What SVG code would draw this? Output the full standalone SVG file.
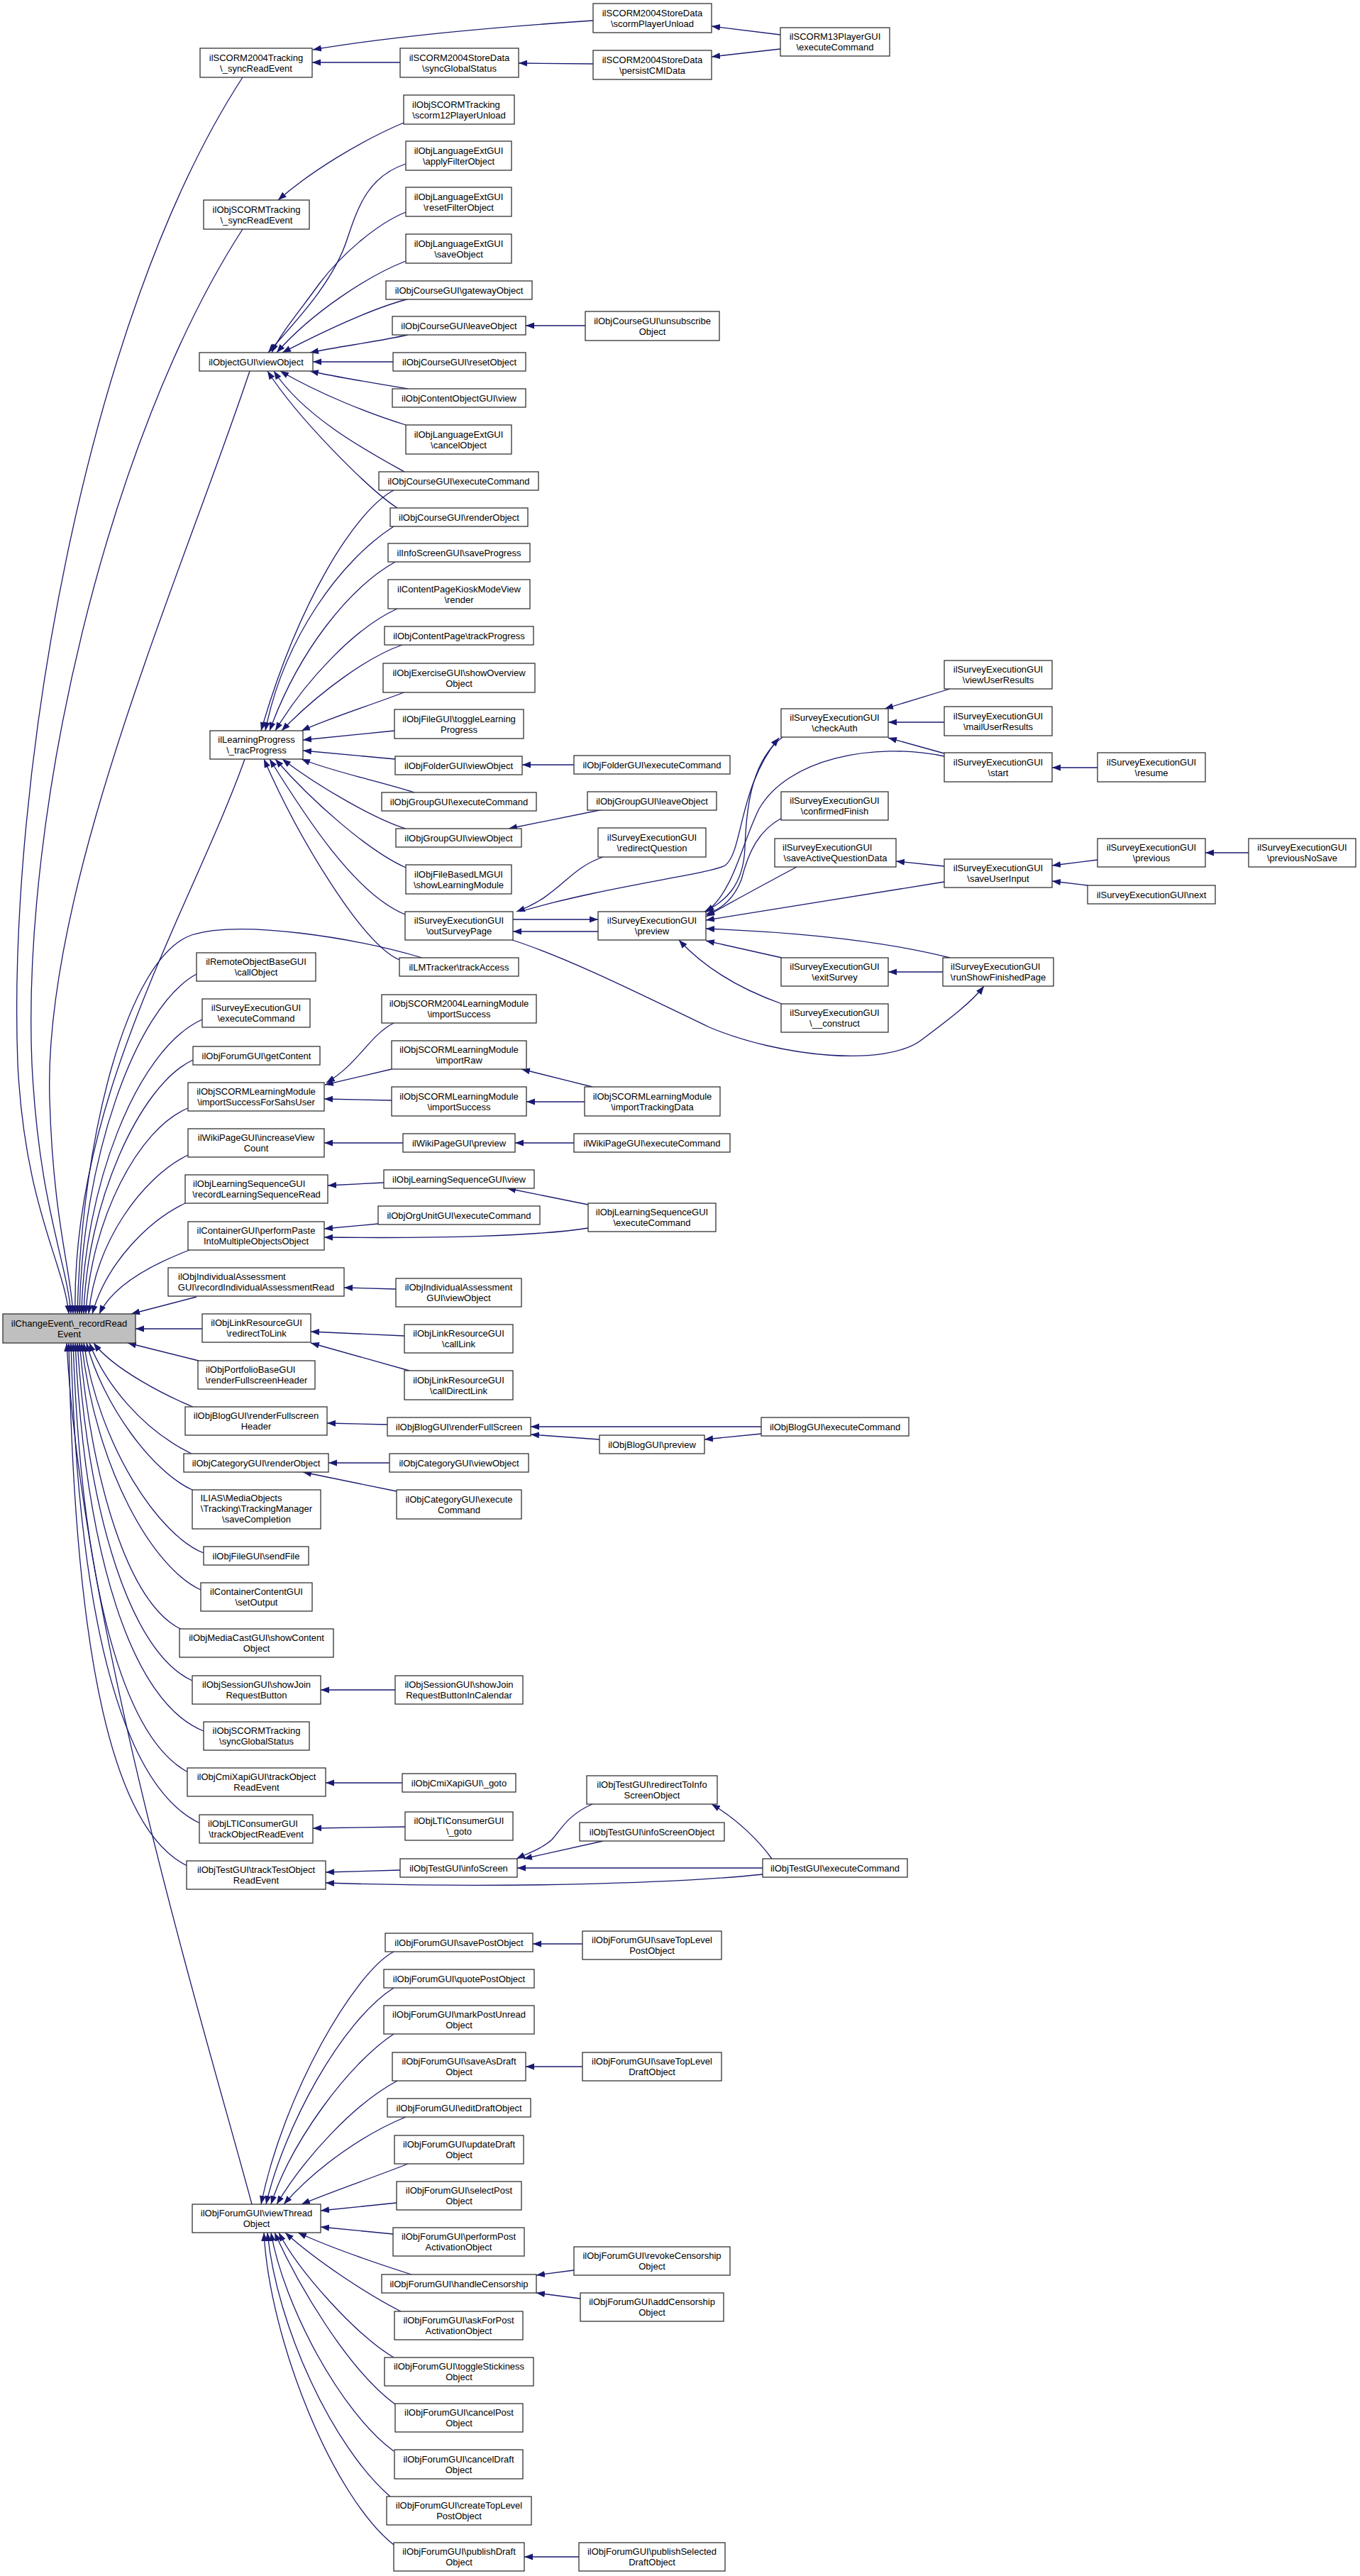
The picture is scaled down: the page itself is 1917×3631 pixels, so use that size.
<svg xmlns="http://www.w3.org/2000/svg" width="1917" height="3631" viewBox="0 0 1917 3631">
<defs>
<marker id="a" markerUnits="userSpaceOnUse" markerWidth="13" markerHeight="10" refX="12" refY="5" orient="auto"><path d="M0,0.5 L12,5 L0,9.5 z" fill="#191970"/></marker>
<style>
.n rect{fill:#fff;stroke:#333;stroke-width:1.3}
.r rect{fill:#bfbfbf;stroke:#333;stroke-width:1.3}
text{font-family:"Liberation Sans",Arial,Helvetica,sans-serif;font-size:13px;fill:#000;text-anchor:middle}
text.l{text-anchor:start}
.e path{fill:none;stroke:#191970;stroke-width:1.3;marker-end:url(#a)}
</style>
</defs>
<rect width="1917" height="3631" fill="#fff"/>
<g id="edges" class="e">
<path d="M342,109 C 120,450 10,1100 25,1500 C 35,1700 90,1780 97,1852"/>
<path d="M342,323 C 150,620 30,1150 45,1500 C 55,1700 95,1780 100,1852"/>
<path d="M352,523 C 260,800 60,1250 70,1550 C 75,1720 100,1790 103,1852"/>
<path d="M345,1070 C 270,1280 100,1550 106,1852"/>
<path d="M595,1350 C 500,1322 340,1296 270,1318 C 180,1350 115,1600 109,1852"/>
<path d="M277,1373 C 190,1420 115,1640 112,1852"/>
<path d="M285,1437 C 190,1480 118,1680 115,1852"/>
<path d="M272,1494 C 195,1530 122,1700 118,1852"/>
<path d="M265,1562 C 195,1590 128,1720 121,1852"/>
<path d="M265,1628 C 200,1660 135,1750 125,1852"/>
<path d="M261,1696 C 210,1720 150,1780 130,1852"/>
<path d="M267,1762 C 220,1780 160,1810 140,1852"/>
<path d="M277,1828 L185,1852"/>
<path d="M285,1873 L191,1873"/>
<path d="M280,1918 L180,1893"/>
<path d="M272,1983 C 233,1967 160,1930 132,1893"/>
<path d="M270,2049 C 200,2015 148,1950 126,1893"/>
<path d="M271,2100 C 215,2075 145,1980 122,1893"/>
<path d="M287,2189 C 225,2165 140,2040 118,1893"/>
<path d="M283,2241 C 215,2210 135,2070 115,1893"/>
<path d="M256,2297 C 180,2260 130,2090 112,1893"/>
<path d="M271,2369 C 185,2330 125,2140 109,1893"/>
<path d="M287,2440 C 185,2400 120,2190 106,1893"/>
<path d="M265,2498 C 175,2450 115,2240 103,1893"/>
<path d="M282,2570 C 175,2520 110,2290 100,1893"/>
<path d="M264,2630 C 160,2580 105,2340 97,1893"/>
<path d="M355,3107 C 300,2900 115,2300 94,1893"/>
<path d="M836,29 C 700,38 560,50 441,70"/>
<path d="M564,88 L440,88"/>
<path d="M836,90 L731,89"/>
<path d="M1100,49 L1003,37"/>
<path d="M1100,69 L1003,80"/>
<path d="M569,173 C 510,198 440,240 392,282"/>
<path d="M825,459 L741,459"/>
<path d="M572,231 C 520,248 505,290 490,335 C 470,400 410,460 378,497"/>
<path d="M572,299 C 530,316 480,360 450,400 C 425,435 395,470 383,497"/>
<path d="M572,368 C 520,388 440,440 390,497"/>
<path d="M577,421 C 530,433 460,465 398,497"/>
<path d="M575,472 C 530,482 480,488 437,497"/>
<path d="M554,510 L441,510"/>
<path d="M575,548 C 530,540 480,533 437,523"/>
<path d="M572,599 C 520,583 450,555 395,523"/>
<path d="M570,665 C 525,640 430,590 386,523"/>
<path d="M560,716 C 520,690 420,590 377,523"/>
<path d="M555,691 C 500,720 420,850 368,1030"/>
<path d="M555,742 C 480,790 400,900 374,1030"/>
<path d="M557,792 C 490,830 420,920 380,1030"/>
<path d="M560,858 C 500,885 430,960 388,1030"/>
<path d="M567,909 C 520,925 450,975 397,1030"/>
<path d="M572,975 C 520,995 470,1010 425,1030"/>
<path d="M556,1030 L427,1043"/>
<path d="M557,1070 L427,1058"/>
<path d="M584,1117 C 530,1100 470,1088 425,1070"/>
<path d="M572,1168 C 530,1155 450,1110 398,1070"/>
<path d="M572,1223 C 520,1200 440,1130 388,1070"/>
<path d="M571,1289 C 500,1260 430,1150 380,1070"/>
<path d="M563,1353 C 510,1330 420,1180 372,1070"/>
<path d="M809,1078 L736,1078"/>
<path d="M850,1141 L717,1168"/>
<path d="M850,1208 C 800,1225 790,1262 728,1285"/>
<path d="M723,1296 L843,1296"/>
<path d="M843,1313 L723,1313"/>
<path d="M733,1285 C 850,1250 1000,1232 1022,1220 C 1048,1200 1040,1110 1098,1040"/>
<path d="M1103,1039 C 1062,1070 1052,1130 1050,1195 C 1048,1250 1020,1272 993,1285"/>
<path d="M1331,1062 L1252,1040"/>
<path d="M1339,971 L1247,999"/>
<path d="M1331,1018 L1252,1018"/>
<path d="M1547,1082 L1483,1082"/>
<path d="M1331,1066 C 1230,1045 1110,1070 1070,1140 C 1045,1190 1035,1255 995,1286"/>
<path d="M1102,1153 C 1070,1170 1055,1200 1045,1240 C 1035,1265 1020,1280 995,1289"/>
<path d="M1123,1222 C 1080,1245 1030,1272 995,1292"/>
<path d="M1331,1243 L995,1297"/>
<path d="M1339,1350 C 1260,1330 1150,1315 995,1309"/>
<path d="M1102,1350 L995,1326"/>
<path d="M1102,1415 C 1060,1400 1000,1372 957,1325"/>
<path d="M1329,1370 L1252,1370"/>
<path d="M722,1325 C 800,1350 900,1400 1000,1448 C 1100,1490 1250,1505 1300,1465 C 1340,1435 1370,1412 1387,1390"/>
<path d="M1331,1221 L1263,1214"/>
<path d="M1547,1212 L1483,1220"/>
<path d="M1533,1248 L1483,1242"/>
<path d="M1760,1202 L1699,1202"/>
<path d="M555,1442 C 520,1460 505,1500 460,1526"/>
<path d="M552,1507 L458,1529"/>
<path d="M552,1551 L457,1549"/>
<path d="M835,1532 L735,1507"/>
<path d="M824,1553 L742,1553"/>
<path d="M568,1611 L457,1611"/>
<path d="M809,1611 L726,1611"/>
<path d="M541,1667 L462,1671"/>
<path d="M829,1698 L715,1675"/>
<path d="M533,1725 L457,1732"/>
<path d="M829,1731 C 760,1742 620,1746 457,1744"/>
<path d="M558,1817 L485,1815"/>
<path d="M570,1883 L438,1877"/>
<path d="M577,1932 L438,1893"/>
<path d="M546,2008 L461,2006"/>
<path d="M1073,2011 L748,2011"/>
<path d="M845,2029 L748,2022"/>
<path d="M1073,2021 L993,2029"/>
<path d="M549,2062 L463,2062"/>
<path d="M559,2102 L427,2075"/>
<path d="M557,2382 L452,2382"/>
<path d="M567,2513 L459,2513"/>
<path d="M571,2575 L441,2577"/>
<path d="M564,2636 L459,2639"/>
<path d="M1075,2633 L729,2633"/>
<path d="M1075,2642 C 950,2655 700,2662 459,2654"/>
<path d="M1088,2620 C 1070,2595 1040,2565 1003,2543"/>
<path d="M835,2543 C 800,2558 790,2580 778,2593 C 765,2605 745,2612 728,2620"/>
<path d="M850,2595 L738,2620"/>
<path d="M555,2751 C 500,2780 400,2950 368,3107"/>
<path d="M555,2802 C 480,2850 400,3000 375,3107"/>
<path d="M555,2867 C 490,2910 410,3020 382,3107"/>
<path d="M560,2933 C 500,2965 430,3040 390,3107"/>
<path d="M572,2984 C 520,3005 450,3050 400,3107"/>
<path d="M575,3050 C 530,3068 470,3088 425,3107"/>
<path d="M559,3105 L452,3116"/>
<path d="M554,3149 L452,3139"/>
<path d="M580,3206 C 530,3190 470,3170 420,3147"/>
<path d="M565,3258 C 520,3235 450,3190 402,3147"/>
<path d="M555,3323 C 500,3290 420,3200 393,3147"/>
<path d="M557,3389 C 490,3340 420,3220 387,3147"/>
<path d="M555,3455 C 480,3400 400,3250 382,3147"/>
<path d="M550,3519 C 470,3450 390,3280 377,3147"/>
<path d="M555,3587 C 470,3520 380,3300 372,3147"/>
<path d="M821,2740 L751,2740"/>
<path d="M821,2913 L741,2913"/>
<path d="M809,3200 L756,3207"/>
<path d="M818,3240 L756,3232"/>
<path d="M816,3604 L739,3604"/>
</g>
<g id="n0" class="r"><rect x="4" y="1852" width="187" height="41"/><text><tspan x="97.5" y="1869.5">ilChangeEvent\_recordRead</tspan><tspan x="97.5" y="1884.5">Event</tspan></text></g>
<g id="n1" class="n"><rect x="282" y="68" width="158" height="41"/><text><tspan x="361" y="85.5">ilSCORM2004Tracking</tspan><tspan x="361" y="100.5">\_syncReadEvent</tspan></text></g>
<g id="n2" class="n"><rect x="287" y="282" width="149" height="41"/><text><tspan x="361.5" y="299.5">ilObjSCORMTracking</tspan><tspan x="361.5" y="314.5">\_syncReadEvent</tspan></text></g>
<g id="n3" class="n"><rect x="281" y="497" width="160" height="26"/><text x="361" y="514.5">ilObjectGUI\viewObject</text></g>
<g id="n4" class="n"><rect x="296" y="1030" width="131" height="40"/><text><tspan x="361.5" y="1047">ilLearningProgress</tspan><tspan x="361.5" y="1062">\_tracProgress</tspan></text></g>
<g id="n5" class="n"><rect x="277" y="1343" width="168" height="40"/><text><tspan x="361" y="1360">ilRemoteObjectBaseGUI</tspan><tspan x="361" y="1375">\callObject</tspan></text></g>
<g id="n6" class="n"><rect x="285" y="1408" width="152" height="40"/><text><tspan x="361" y="1425">ilSurveyExecutionGUI</tspan><tspan x="361" y="1440">\executeCommand</tspan></text></g>
<g id="n7" class="n"><rect x="272" y="1475" width="179" height="26"/><text x="361.5" y="1492.5">ilObjForumGUI\getContent</text></g>
<g id="n8" class="n"><rect x="265" y="1526" width="192" height="40"/><text><tspan x="361" y="1543">ilObjSCORMLearningModule</tspan><tspan x="361" y="1558">\importSuccessForSahsUser</tspan></text></g>
<g id="n9" class="n"><rect x="265" y="1591" width="192" height="40"/><text><tspan x="361" y="1608">ilWikiPageGUI\increaseView</tspan><tspan x="361" y="1623">Count</tspan></text></g>
<g id="n10" class="n"><rect x="261" y="1656" width="201" height="40"/><text class="l" x="272" y="1673">ilObjLearningSequenceGUI</text><text x="361.5" y="1688">\recordLearningSequenceRead</text></g>
<g id="n11" class="n"><rect x="265" y="1722" width="192" height="40"/><text><tspan x="361" y="1739">ilContainerGUI\performPaste</tspan><tspan x="361" y="1754">IntoMultipleObjectsObject</tspan></text></g>
<g id="n12" class="n"><rect x="237" y="1787" width="248" height="40"/><text class="l" x="251" y="1804">ilObjIndividualAssessment</text><text x="361" y="1819">GUI\recordIndividualAssessmentRead</text></g>
<g id="n13" class="n"><rect x="285" y="1852" width="153" height="40"/><text><tspan x="361.5" y="1869">ilObjLinkResourceGUI</tspan><tspan x="361.5" y="1884">\redirectToLink</tspan></text></g>
<g id="n14" class="n"><rect x="279" y="1918" width="165" height="40"/><text class="l" x="290" y="1935">ilObjPortfolioBaseGUI</text><text x="361.5" y="1950">\renderFullscreenHeader</text></g>
<g id="n15" class="n"><rect x="261" y="1983" width="200" height="40"/><text><tspan x="361" y="2000">ilObjBlogGUI\renderFullscreen</tspan><tspan x="361" y="2015">Header</tspan></text></g>
<g id="n16" class="n"><rect x="259" y="2049" width="204" height="26"/><text x="361" y="2066.5">ilObjCategoryGUI\renderObject</text></g>
<g id="n17" class="n"><rect x="271" y="2100" width="181" height="55"/><text class="l" x="282.5" y="2116">ILIAS\MediaObjects</text><text><tspan x="361.5" y="2131">\Tracking\TrackingManager</tspan><tspan x="361.5" y="2146">\saveCompletion</tspan></text></g>
<g id="n18" class="n"><rect x="287" y="2180" width="148" height="26"/><text x="361" y="2197.5">ilObjFileGUI\sendFile</text></g>
<g id="n19" class="n"><rect x="283" y="2231" width="157" height="40"/><text><tspan x="361.5" y="2248">ilContainerContentGUI</tspan><tspan x="361.5" y="2263">\setOutput</tspan></text></g>
<g id="n20" class="n"><rect x="253" y="2296" width="217" height="40"/><text><tspan x="361.5" y="2313">ilObjMediaCastGUI\showContent</tspan><tspan x="361.5" y="2328">Object</tspan></text></g>
<g id="n21" class="n"><rect x="271" y="2362" width="181" height="40"/><text><tspan x="361.5" y="2379">ilObjSessionGUI\showJoin</tspan><tspan x="361.5" y="2394">RequestButton</tspan></text></g>
<g id="n22" class="n"><rect x="287" y="2427" width="149" height="40"/><text><tspan x="361.5" y="2444">ilObjSCORMTracking</tspan><tspan x="361.5" y="2459">\syncGlobalStatus</tspan></text></g>
<g id="n23" class="n"><rect x="264" y="2492" width="195" height="40"/><text><tspan x="361.5" y="2509">ilObjCmiXapiGUI\trackObject</tspan><tspan x="361.5" y="2524">ReadEvent</tspan></text></g>
<g id="n24" class="n"><rect x="281" y="2558" width="160" height="40"/><text class="l" x="293" y="2575">ilObjLTIConsumerGUI</text><text x="361" y="2590">\trackObjectReadEvent</text></g>
<g id="n25" class="n"><rect x="263" y="2623" width="196" height="40"/><text><tspan x="361" y="2640">ilObjTestGUI\trackTestObject</tspan><tspan x="361" y="2655">ReadEvent</tspan></text></g>
<g id="n26" class="n"><rect x="271" y="3107" width="181" height="40"/><text><tspan x="361.5" y="3124">ilObjForumGUI\viewThread</tspan><tspan x="361.5" y="3139">Object</tspan></text></g>
<g id="n30" class="n"><rect x="564" y="68" width="167" height="41"/><text><tspan x="647.5" y="85.5">ilSCORM2004StoreData</tspan><tspan x="647.5" y="100.5">\syncGlobalStatus</tspan></text></g>
<g id="n31" class="n"><rect x="569" y="134" width="156" height="41"/><text class="l" x="581" y="151.5">ilObjSCORMTracking</text><text x="647" y="166.5">\scorm12PlayerUnload</text></g>
<g id="n32" class="n"><rect x="572" y="199" width="149" height="41"/><text><tspan x="646.5" y="216.5">ilObjLanguageExtGUI</tspan><tspan x="646.5" y="231.5">\applyFilterObject</tspan></text></g>
<g id="n33" class="n"><rect x="572" y="264" width="149" height="41"/><text><tspan x="646.5" y="281.5">ilObjLanguageExtGUI</tspan><tspan x="646.5" y="296.5">\resetFilterObject</tspan></text></g>
<g id="n34" class="n"><rect x="572" y="330" width="149" height="41"/><text><tspan x="646.5" y="347.5">ilObjLanguageExtGUI</tspan><tspan x="646.5" y="362.5">\saveObject</tspan></text></g>
<g id="n35" class="n"><rect x="544" y="396" width="206" height="26"/><text x="647" y="413.5">ilObjCourseGUI\gatewayObject</text></g>
<g id="n36" class="n"><rect x="553" y="446" width="188" height="26"/><text x="647" y="463.5">ilObjCourseGUI\leaveObject</text></g>
<g id="n37" class="n"><rect x="554" y="497" width="187" height="26"/><text x="647.5" y="514.5">ilObjCourseGUI\resetObject</text></g>
<g id="n38" class="n"><rect x="553" y="548" width="188" height="26"/><text x="647" y="565.5">ilObjContentObjectGUI\view</text></g>
<g id="n39" class="n"><rect x="572" y="599" width="149" height="41"/><text><tspan x="646.5" y="616.5">ilObjLanguageExtGUI</tspan><tspan x="646.5" y="631.5">\cancelObject</tspan></text></g>
<g id="n40" class="n"><rect x="534" y="665" width="225" height="26"/><text x="646.5" y="682.5">ilObjCourseGUI\executeCommand</text></g>
<g id="n41" class="n"><rect x="550" y="716" width="194" height="26"/><text x="647" y="733.5">ilObjCourseGUI\renderObject</text></g>
<g id="n42" class="n"><rect x="547" y="766" width="200" height="26"/><text x="647" y="783.5">ilInfoScreenGUI\saveProgress</text></g>
<g id="n43" class="n"><rect x="547" y="817" width="200" height="41"/><text><tspan x="647" y="834.5">ilContentPageKioskModeView</tspan><tspan x="647" y="849.5">\render</tspan></text></g>
<g id="n44" class="n"><rect x="542" y="883" width="210" height="26"/><text x="647" y="900.5">ilObjContentPage\trackProgress</text></g>
<g id="n45" class="n"><rect x="540" y="935" width="214" height="41"/><text><tspan x="647" y="952.5">ilObjExerciseGUI\showOverview</tspan><tspan x="647" y="967.5">Object</tspan></text></g>
<g id="n46" class="n"><rect x="556" y="1000" width="182" height="41"/><text><tspan x="647" y="1017.5">ilObjFileGUI\toggleLearning</tspan><tspan x="647" y="1032.5">Progress</tspan></text></g>
<g id="n47" class="n"><rect x="557" y="1066" width="179" height="26"/><text x="646.5" y="1083.5">ilObjFolderGUI\viewObject</text></g>
<g id="n48" class="n"><rect x="538" y="1117" width="218" height="26"/><text x="647" y="1134.5">ilObjGroupGUI\executeCommand</text></g>
<g id="n49" class="n"><rect x="558" y="1168" width="177" height="26"/><text x="646.5" y="1185.5">ilObjGroupGUI\viewObject</text></g>
<g id="n50" class="n"><rect x="572" y="1219" width="149" height="41"/><text><tspan x="646.5" y="1236.5">ilObjFileBasedLMGUI</tspan><tspan x="646.5" y="1251.5">\showLearningModule</tspan></text></g>
<g id="n51" class="n"><rect x="571" y="1285" width="152" height="40"/><text><tspan x="647" y="1302">ilSurveyExecutionGUI</tspan><tspan x="647" y="1317">\outSurveyPage</tspan></text></g>
<g id="n52" class="n"><rect x="563" y="1350" width="168" height="26"/><text x="647" y="1367.5">ilLMTracker\trackAccess</text></g>
<g id="n53" class="n"><rect x="538" y="1402" width="218" height="40"/><text><tspan x="647" y="1419">ilObjSCORM2004LearningModule</tspan><tspan x="647" y="1434">\importSuccess</tspan></text></g>
<g id="n54" class="n"><rect x="552" y="1467" width="190" height="40"/><text><tspan x="647" y="1484">ilObjSCORMLearningModule</tspan><tspan x="647" y="1499">\importRaw</tspan></text></g>
<g id="n55" class="n"><rect x="552" y="1532" width="190" height="41"/><text><tspan x="647" y="1549.5">ilObjSCORMLearningModule</tspan><tspan x="647" y="1564.5">\importSuccess</tspan></text></g>
<g id="n56" class="n"><rect x="568" y="1598" width="158" height="26"/><text x="647" y="1615.5">ilWikiPageGUI\preview</text></g>
<g id="n57" class="n"><rect x="541" y="1649" width="212" height="26"/><text x="647" y="1666.5">ilObjLearningSequenceGUI\view</text></g>
<g id="n58" class="n"><rect x="533" y="1700" width="228" height="26"/><text x="647" y="1717.5">ilObjOrgUnitGUI\executeCommand</text></g>
<g id="n59" class="n"><rect x="558" y="1802" width="177" height="40"/><text><tspan x="646.5" y="1819">ilObjIndividualAssessment</tspan><tspan x="646.5" y="1834">GUI\viewObject</tspan></text></g>
<g id="n60" class="n"><rect x="570" y="1867" width="153" height="40"/><text><tspan x="646.5" y="1884">ilObjLinkResourceGUI</tspan><tspan x="646.5" y="1899">\callLink</tspan></text></g>
<g id="n61" class="n"><rect x="570" y="1932" width="153" height="41"/><text><tspan x="646.5" y="1949.5">ilObjLinkResourceGUI</tspan><tspan x="646.5" y="1964.5">\callDirectLink</tspan></text></g>
<g id="n62" class="n"><rect x="546" y="1998" width="202" height="26"/><text x="647" y="2015.5">ilObjBlogGUI\renderFullScreen</text></g>
<g id="n63" class="n"><rect x="549" y="2049" width="196" height="26"/><text x="647" y="2066.5">ilObjCategoryGUI\viewObject</text></g>
<g id="n64" class="n"><rect x="559" y="2100" width="176" height="41"/><text><tspan x="647" y="2117.5">ilObjCategoryGUI\execute</tspan><tspan x="647" y="2132.5">Command</tspan></text></g>
<g id="n65" class="n"><rect x="557" y="2362" width="180" height="40"/><text><tspan x="647" y="2379">ilObjSessionGUI\showJoin</tspan><tspan x="647" y="2394">RequestButtonInCalendar</tspan></text></g>
<g id="n66" class="n"><rect x="567" y="2500" width="160" height="26"/><text x="647" y="2517.5">ilObjCmiXapiGUI\_goto</text></g>
<g id="n67" class="n"><rect x="571" y="2554" width="152" height="40"/><text><tspan x="647" y="2571">ilObjLTIConsumerGUI</tspan><tspan x="647" y="2586">\_goto</tspan></text></g>
<g id="n68" class="n"><rect x="564" y="2620" width="165" height="26"/><text x="646.5" y="2637.5">ilObjTestGUI\infoScreen</text></g>
<g id="n69" class="n"><rect x="543" y="2725" width="208" height="26"/><text x="647" y="2742.5">ilObjForumGUI\savePostObject</text></g>
<g id="n70" class="n"><rect x="541" y="2776" width="212" height="26"/><text x="647" y="2793.5">ilObjForumGUI\quotePostObject</text></g>
<g id="n71" class="n"><rect x="541" y="2827" width="212" height="40"/><text><tspan x="647" y="2844">ilObjForumGUI\markPostUnread</tspan><tspan x="647" y="2859">Object</tspan></text></g>
<g id="n72" class="n"><rect x="553" y="2893" width="188" height="40"/><text><tspan x="647" y="2910">ilObjForumGUI\saveAsDraft</tspan><tspan x="647" y="2925">Object</tspan></text></g>
<g id="n73" class="n"><rect x="546" y="2958" width="202" height="26"/><text x="647" y="2975.5">ilObjForumGUI\editDraftObject</text></g>
<g id="n74" class="n"><rect x="556" y="3010" width="182" height="40"/><text><tspan x="647" y="3027">ilObjForumGUI\updateDraft</tspan><tspan x="647" y="3042">Object</tspan></text></g>
<g id="n75" class="n"><rect x="559" y="3075" width="176" height="40"/><text><tspan x="647" y="3092">ilObjForumGUI\selectPost</tspan><tspan x="647" y="3107">Object</tspan></text></g>
<g id="n76" class="n"><rect x="554" y="3140" width="185" height="40"/><text><tspan x="646.5" y="3157">ilObjForumGUI\performPost</tspan><tspan x="646.5" y="3172">ActivationObject</tspan></text></g>
<g id="n77" class="n"><rect x="538" y="3206" width="218" height="26"/><text x="647" y="3223.5">ilObjForumGUI\handleCensorship</text></g>
<g id="n78" class="n"><rect x="556" y="3258" width="181" height="40"/><text><tspan x="646.5" y="3275">ilObjForumGUI\askForPost</tspan><tspan x="646.5" y="3290">ActivationObject</tspan></text></g>
<g id="n79" class="n"><rect x="542" y="3323" width="210" height="40"/><text><tspan x="647" y="3340">ilObjForumGUI\toggleStickiness</tspan><tspan x="647" y="3355">Object</tspan></text></g>
<g id="n80" class="n"><rect x="557" y="3388" width="180" height="40"/><text><tspan x="647" y="3405">ilObjForumGUI\cancelPost</tspan><tspan x="647" y="3420">Object</tspan></text></g>
<g id="n81" class="n"><rect x="556" y="3453" width="181" height="41"/><text><tspan x="646.5" y="3470.5">ilObjForumGUI\cancelDraft</tspan><tspan x="646.5" y="3485.5">Object</tspan></text></g>
<g id="n82" class="n"><rect x="545" y="3519" width="204" height="40"/><text><tspan x="647" y="3536">ilObjForumGUI\createTopLevel</tspan><tspan x="647" y="3551">PostObject</tspan></text></g>
<g id="n83" class="n"><rect x="555" y="3584" width="184" height="40"/><text><tspan x="647" y="3601">ilObjForumGUI\publishDraft</tspan><tspan x="647" y="3616">Object</tspan></text></g>
<g id="n90" class="n"><rect x="836" y="5" width="167" height="41"/><text><tspan x="919.5" y="22.5">ilSCORM2004StoreData</tspan><tspan x="919.5" y="37.5">\scormPlayerUnload</tspan></text></g>
<g id="n91" class="n"><rect x="836" y="71" width="167" height="41"/><text><tspan x="919.5" y="88.5">ilSCORM2004StoreData</tspan><tspan x="919.5" y="103.5">\persistCMIData</tspan></text></g>
<g id="n92" class="n"><rect x="825" y="439" width="189" height="41"/><text><tspan x="919.5" y="456.5">ilObjCourseGUI\unsubscribe</tspan><tspan x="919.5" y="471.5">Object</tspan></text></g>
<g id="n93" class="n"><rect x="809" y="1065" width="220" height="26"/><text x="919" y="1082.5">ilObjFolderGUI\executeCommand</text></g>
<g id="n94" class="n"><rect x="828" y="1116" width="182" height="26"/><text x="919" y="1133.5">ilObjGroupGUI\leaveObject</text></g>
<g id="n95" class="n"><rect x="843" y="1167" width="152" height="41"/><text><tspan x="919" y="1184.5">ilSurveyExecutionGUI</tspan><tspan x="919" y="1199.5">\redirectQuestion</tspan></text></g>
<g id="n96" class="n"><rect x="843" y="1285" width="152" height="40"/><text><tspan x="919" y="1302">ilSurveyExecutionGUI</tspan><tspan x="919" y="1317">\preview</tspan></text></g>
<g id="n97" class="n"><rect x="824" y="1532" width="191" height="41"/><text><tspan x="919.5" y="1549.5">ilObjSCORMLearningModule</tspan><tspan x="919.5" y="1564.5">\importTrackingData</tspan></text></g>
<g id="n98" class="n"><rect x="809" y="1598" width="220" height="26"/><text x="919" y="1615.5">ilWikiPageGUI\executeCommand</text></g>
<g id="n99" class="n"><rect x="829" y="1696" width="180" height="40"/><text><tspan x="919" y="1713">ilObjLearningSequenceGUI</tspan><tspan x="919" y="1728">\executeCommand</tspan></text></g>
<g id="n100" class="n"><rect x="845" y="2023" width="148" height="26"/><text x="919" y="2040.5">ilObjBlogGUI\preview</text></g>
<g id="n101" class="n"><rect x="827" y="2503" width="184" height="40"/><text><tspan x="919" y="2520">ilObjTestGUI\redirectToInfo</tspan><tspan x="919" y="2535">ScreenObject</tspan></text></g>
<g id="n102" class="n"><rect x="817" y="2569" width="204" height="26"/><text x="919" y="2586.5">ilObjTestGUI\infoScreenObject</text></g>
<g id="n103" class="n"><rect x="821" y="2722" width="196" height="40"/><text><tspan x="919" y="2739">ilObjForumGUI\saveTopLevel</tspan><tspan x="919" y="2754">PostObject</tspan></text></g>
<g id="n104" class="n"><rect x="821" y="2893" width="196" height="40"/><text><tspan x="919" y="2910">ilObjForumGUI\saveTopLevel</tspan><tspan x="919" y="2925">DraftObject</tspan></text></g>
<g id="n105" class="n"><rect x="809" y="3167" width="220" height="40"/><text><tspan x="919" y="3184">ilObjForumGUI\revokeCensorship</tspan><tspan x="919" y="3199">Object</tspan></text></g>
<g id="n106" class="n"><rect x="818" y="3232" width="202" height="40"/><text><tspan x="919" y="3249">ilObjForumGUI\addCensorship</tspan><tspan x="919" y="3264">Object</tspan></text></g>
<g id="n107" class="n"><rect x="816" y="3584" width="206" height="40"/><text><tspan x="919" y="3601">ilObjForumGUI\publishSelected</tspan><tspan x="919" y="3616">DraftObject</tspan></text></g>
<g id="n110" class="n"><rect x="1100" y="39" width="154" height="40"/><text><tspan x="1177" y="56">ilSCORM13PlayerGUI</tspan><tspan x="1177" y="71">\executeCommand</tspan></text></g>
<g id="n111" class="n"><rect x="1101" y="999" width="151" height="40"/><text><tspan x="1176.5" y="1016">ilSurveyExecutionGUI</tspan><tspan x="1176.5" y="1031">\checkAuth</tspan></text></g>
<g id="n112" class="n"><rect x="1101" y="1116" width="151" height="40"/><text><tspan x="1176.5" y="1133">ilSurveyExecutionGUI</tspan><tspan x="1176.5" y="1148">\confirmedFinish</tspan></text></g>
<g id="n113" class="n"><rect x="1092" y="1182" width="171" height="40"/><text class="l" x="1103" y="1199">ilSurveyExecutionGUI</text><text x="1177.5" y="1214">\saveActiveQuestionData</text></g>
<g id="n114" class="n"><rect x="1101" y="1350" width="151" height="40"/><text><tspan x="1176.5" y="1367">ilSurveyExecutionGUI</tspan><tspan x="1176.5" y="1382">\exitSurvey</tspan></text></g>
<g id="n115" class="n"><rect x="1101" y="1415" width="151" height="40"/><text><tspan x="1176.5" y="1432">ilSurveyExecutionGUI</tspan><tspan x="1176.5" y="1447">\__construct</tspan></text></g>
<g id="n116" class="n"><rect x="1073" y="1998" width="208" height="26"/><text x="1177" y="2015.5">ilObjBlogGUI\executeCommand</text></g>
<g id="n117" class="n"><rect x="1075" y="2620" width="204" height="26"/><text x="1177" y="2637.5">ilObjTestGUI\executeCommand</text></g>
<g id="n120" class="n"><rect x="1331" y="931" width="152" height="40"/><text><tspan x="1407" y="948">ilSurveyExecutionGUI</tspan><tspan x="1407" y="963">\viewUserResults</tspan></text></g>
<g id="n121" class="n"><rect x="1331" y="996" width="152" height="41"/><text><tspan x="1407" y="1013.5">ilSurveyExecutionGUI</tspan><tspan x="1407" y="1028.5">\mailUserResults</tspan></text></g>
<g id="n122" class="n"><rect x="1331" y="1061" width="152" height="41"/><text><tspan x="1407" y="1078.5">ilSurveyExecutionGUI</tspan><tspan x="1407" y="1093.5">\start</tspan></text></g>
<g id="n123" class="n"><rect x="1331" y="1211" width="152" height="40"/><text><tspan x="1407" y="1228">ilSurveyExecutionGUI</tspan><tspan x="1407" y="1243">\saveUserInput</tspan></text></g>
<g id="n124" class="n"><rect x="1329" y="1350" width="156" height="40"/><text class="l" x="1340" y="1367">ilSurveyExecutionGUI</text><text x="1407" y="1382">\runShowFinishedPage</text></g>
<g id="n130" class="n"><rect x="1547" y="1061" width="152" height="41"/><text><tspan x="1623" y="1078.5">ilSurveyExecutionGUI</tspan><tspan x="1623" y="1093.5">\resume</tspan></text></g>
<g id="n131" class="n"><rect x="1547" y="1182" width="152" height="40"/><text><tspan x="1623" y="1199">ilSurveyExecutionGUI</tspan><tspan x="1623" y="1214">\previous</tspan></text></g>
<g id="n132" class="n"><rect x="1533" y="1248" width="180" height="26"/><text x="1623" y="1265.5">ilSurveyExecutionGUI\next</text></g>
<g id="n140" class="n"><rect x="1760" y="1182" width="151" height="40"/><text><tspan x="1835.5" y="1199">ilSurveyExecutionGUI</tspan><tspan x="1835.5" y="1214">\previousNoSave</tspan></text></g>
</svg>
